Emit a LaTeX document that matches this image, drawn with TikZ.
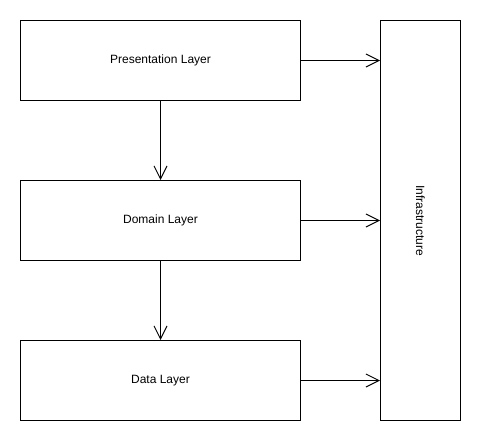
\documentclass[tikz,border=0pt]{standalone}
\usepackage{fontspec}
\setmainfont{Liberation Sans}
\usetikzlibrary{arrows.meta}
\begin{document}
\begin{tikzpicture}[x=1pt,y=-1pt,
  layer/.style={draw=black,line width=1pt,minimum width=280pt,minimum height=80pt,inner sep=0pt,font=\fontsize{12}{14}\selectfont,anchor=north west},
  conn/.style={line width=1pt,-{Straight Barb[length=13pt,width=13pt,line width=1pt]}}]
\useasboundingbox (0,0) rectangle (481,441);
\node[layer] (pres) at (20,20) {Presentation Layer};
\node[layer] (dom) at (20,180) {Domain Layer};
\node[layer] (data) at (20,340) {Data Layer};
\node[draw=black,line width=1pt,minimum width=80pt,minimum height=400pt,inner sep=0pt,anchor=north west] (infra) at (380,20) {};
\node[rotate=-90,font=\fontsize{12}{14}\selectfont] at (infra.center) {Infrastructure};
\draw[conn] (pres.south) -- (dom.north);
\draw[conn] (dom.south) -- (data.north);
\draw[conn] (pres.east) -- (pres.east -| infra.west);
\draw[conn] (dom.east) -- (dom.east -| infra.west);
\draw[conn] (data.east) -- (data.east -| infra.west);
\end{tikzpicture}
\end{document}
